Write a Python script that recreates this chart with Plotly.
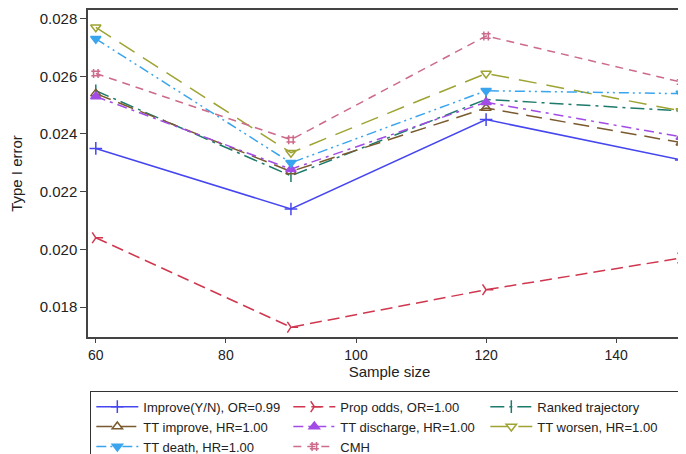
import plotly.graph_objects as go

sample_sizes = [60, 90, 120, 150]

series_names = [
    "Improve(Y/N), OR=0.99",
    "Prop odds, OR=1.00",
    "Ranked trajectory",
    "TT improve, HR=1.00",
    "TT discharge, HR=1.00",
    "TT worsen, HR=1.00",
    "TT death, HR=1.00",
    "CMH",
]

improve_yn = [0.0235, 0.0214, 0.0245, 0.0231]
prop_odds = [0.0204, 0.0173, 0.0186, 0.0197]
ranked_traj = [0.0255, 0.02255, 0.0252, 0.0248]
tt_improve = [0.0254, 0.0227, 0.0249, 0.0237]
tt_discharge = [0.0253, 0.02278, 0.0251, 0.0239]
tt_worsen = [0.0277, 0.02335, 0.0261, 0.0248]
tt_death = [0.0273, 0.0230, 0.0255, 0.0254]
cmh = [0.0261, 0.0238, 0.0274, 0.0258]

values = [improve_yn, prop_odds, ranked_traj, tt_improve,
          tt_discharge, tt_worsen, tt_death, cmh]

colors = ["#4646f0", "#d0374f", "#1d7a6c", "#7a5a2e",
          "#a24be6", "#9ea332", "#3aa5ee", "#cc6b8a"]
dashes = ["solid", "12px,6px", "14px,5px,3px,5px", "16px,8px",
          "10px,5px,3px,5px", "18px,10px", "10px,4px,2px,4px,2px,4px", "8px,6px"]
symbols = ["cross-thin-open", "y-right-open", "line-ns-open", "triangle-up-open",
           "triangle-up", "triangle-down-open", "triangle-down", "hash-open"]

fig = go.Figure()
for name, vals, c, d, s in zip(series_names, values, colors, dashes, symbols):
    fig.add_trace(go.Scatter(
        x=sample_sizes, y=vals, name=name, mode="lines+markers",
        line=dict(color=c, width=1.5, dash=d),
        marker=dict(symbol=s, size=9, color=c, line=dict(color=c, width=1.5)),
    ))

font = "Liberation Sans, Arial, sans-serif"
fig.update_layout(
    width=686, height=454,
    margin=dict(l=80, r=3, t=2, b=125),
    paper_bgcolor="white", plot_bgcolor="white",
    font=dict(family=font, size=14, color="#222"),
    xaxis=dict(range=[58.8, 151.5], tickvals=[60, 80, 100, 120, 140],
               showgrid=False, zeroline=False, showline=True, mirror=True,
               linecolor="#444", linewidth=1.5, ticks="outside", ticklen=4,
               tickcolor="#444", tickfont=dict(size=14), automargin=False,
               title=dict(text="Sample size", font=dict(size=15), standoff=4)),
    yaxis=dict(range=[0.01696, 0.0283],
               tickvals=[0.018, 0.020, 0.022, 0.024, 0.026, 0.028],
               tickformat=".3f",
               showgrid=False, zeroline=False, showline=True, mirror=True,
               linecolor="#444", linewidth=1.5, ticks="outside", ticklen=6,
               tickcolor="#444", tickfont=dict(size=15), automargin=False,
               title=dict(text="Type I error", font=dict(size=15), standoff=18)),
    legend=dict(orientation="h", xref="container", yref="container",
                x=0.12, xanchor="left", y=0.157, yanchor="top",
                entrywidth=140, entrywidthmode="pixels", itemwidth=42,
                bordercolor="#333", borderwidth=1, bgcolor="white",
                font=dict(size=13), tracegroupgap=0),
    showlegend=True,
)

fig.write_html("out.html")
